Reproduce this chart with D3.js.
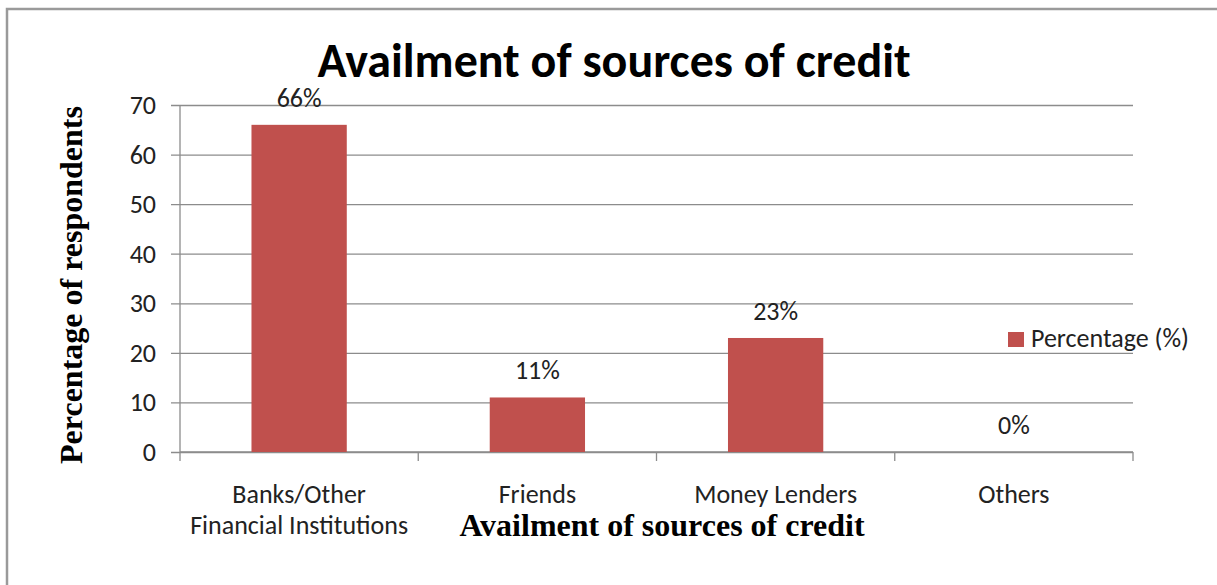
<!DOCTYPE html>
<html>
<head>
<meta charset="utf-8">
<script src="https://cdn.jsdelivr.net/npm/d3@7"></script>
<style>
  html, body { margin: 0; padding: 0; background: #fff; }
  svg { display: block; }
  .sans { font-family: Carlito, Lato, "Open Sans", sans-serif; }
  .serif { font-family: "Liberation Serif", "DejaVu Serif", serif; }
</style>
</head>
<body>
<svg id="chart" width="1217" height="585"></svg>
<script>
// Share of respondents by source of credit
const categories = ["Banks/Other Financial Institutions", "Friends", "Money Lenders", "Others"];
const categoryLines = [["Banks/Other", "Financial Institutions"], ["Friends"], ["Money Lenders"], ["Others"]];
const percentages = [66, 11, 23, 0];
const yTicks = [0, 10, 20, 30, 40, 50, 60, 70];
const seriesName = "Percentage (%)";

const barColor = "#C0504D";
const gridColor = "#8C8C8C";
const labelSize = 26;

const svg = d3.select("#chart");

// Outer frame of the chart area
svg.append("rect")
  .attr("x", 7).attr("y", 9)
  .attr("width", 1260).attr("height", 620)
  .attr("fill", "none")
  .attr("stroke", "#9A9A9A")
  .attr("stroke-width", 2.5);

const plot = { left: 180, right: 1133, top: 105, bottom: 452 };

const x = d3.scaleBand()
  .domain(categories)
  .range([plot.left, plot.right])
  .padding(0);

const y = d3.scaleLinear()
  .domain([0, 70])
  .range([plot.bottom, plot.top]);

// Horizontal gridlines with tick marks
const yAxis = d3.axisLeft(y)
  .tickValues(yTicks)
  .tickSize(-(plot.right - plot.left))
  .tickPadding(0)
  .tickFormat("");
const gy = svg.append("g")
  .attr("transform", `translate(${plot.left},0)`)
  .call(yAxis);
gy.select(".domain").remove();
gy.selectAll(".tick line")
  .attr("x1", -9)
  .attr("stroke", gridColor)
  .attr("stroke-width", 1.3);

// Y tick labels
svg.append("g").selectAll("text")
  .data(yTicks)
  .join("text")
  .attr("class", "sans")
  .attr("x", 156)
  .attr("y", d => y(d) + 9)
  .attr("text-anchor", "end")
  .attr("font-size", labelSize)
  .attr("fill", "#222")
  .text(d => d);

// Vertical axis line
svg.append("line")
  .attr("x1", plot.left).attr("x2", plot.left)
  .attr("y1", plot.top).attr("y2", plot.bottom)
  .attr("stroke", gridColor).attr("stroke-width", 1.3);

// Category axis with tick marks at band edges
const edges = categories.map(c => x(c)).concat([plot.right]);
svg.append("line")
  .attr("x1", plot.left).attr("x2", plot.right)
  .attr("y1", plot.bottom).attr("y2", plot.bottom)
  .attr("stroke", gridColor).attr("stroke-width", 1.3);
svg.append("g").selectAll("line")
  .data(edges)
  .join("line")
  .attr("x1", d => d).attr("x2", d => d)
  .attr("y1", plot.bottom).attr("y2", plot.bottom + 9)
  .attr("stroke", gridColor).attr("stroke-width", 1.3);

// Bars
const barW = x.bandwidth() * 0.4;
svg.append("g").selectAll("rect")
  .data(percentages)
  .join("rect")
  .attr("x", (d, i) => x(categories[i]) + (x.bandwidth() - barW) / 2)
  .attr("y", d => y(d))
  .attr("width", barW)
  .attr("height", d => y(0) - y(d))
  .attr("fill", barColor);

// Value labels
svg.append("g").selectAll("text")
  .data(percentages)
  .join("text")
  .attr("class", "sans")
  .attr("x", (d, i) => x(categories[i]) + x.bandwidth() / 2)
  .attr("y", d => y(d) - 18)
  .attr("text-anchor", "middle")
  .attr("font-size", labelSize)
  .attr("fill", "#222")
  .text(d => d + "%");

// Category labels
const catG = svg.append("g").selectAll("text")
  .data(categoryLines)
  .join("text")
  .attr("class", "sans")
  .attr("x", (d, i) => x(categories[i]) + x.bandwidth() / 2)
  .attr("y", 503)
  .attr("text-anchor", "middle")
  .attr("font-size", labelSize)
  .attr("fill", "#222");
catG.selectAll("tspan")
  .data(d => d)
  .join("tspan")
  .attr("x", function () { return d3.select(this.parentNode).attr("x"); })
  .attr("dy", (d, i) => i === 0 ? 0 : 31)
  .text(d => d);

// Title
svg.append("text")
  .attr("class", "sans")
  .attr("x", 614).attr("y", 77)
  .attr("text-anchor", "middle")
  .attr("font-size", 48)
  .attr("font-weight", "bold")
  .attr("fill", "#000")
  .text("Availment of sources of credit");

// Axis titles
svg.append("text")
  .attr("class", "serif")
  .attr("x", 662).attr("y", 536)
  .attr("text-anchor", "middle")
  .attr("font-size", 32)
  .attr("font-weight", "bold")
  .attr("fill", "#000")
  .text("Availment of sources of credit");

svg.append("text")
  .attr("class", "serif")
  .attr("transform", "translate(82,285) rotate(-90)")
  .attr("text-anchor", "middle")
  .attr("font-size", 32)
  .attr("font-weight", "bold")
  .attr("fill", "#000")
  .text("Percentage of respondents");

// Legend
const legend = svg.append("g").attr("transform", "translate(1008,332)");
legend.append("rect")
  .attr("width", 16).attr("height", 15)
  .attr("fill", barColor);
legend.append("text")
  .attr("class", "sans")
  .attr("x", 23).attr("y", 15)
  .attr("font-size", labelSize)
  .attr("fill", "#222")
  .text(seriesName);
</script>
</body>
</html>
